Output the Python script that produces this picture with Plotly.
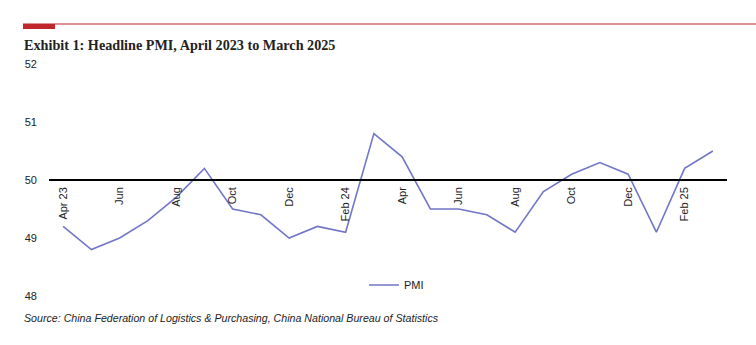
import plotly.graph_objects as go

months = ["Apr 23", "May 23", "Jun 23", "Jul 23", "Aug 23", "Sep 23", "Oct 23", "Nov 23",
          "Dec 23", "Jan 24", "Feb 24", "Mar 24", "Apr 24", "May 24", "Jun 24", "Jul 24",
          "Aug 24", "Sep 24", "Oct 24", "Nov 24", "Dec 24", "Jan 25", "Feb 25", "Mar 25"]
pmi = [49.2, 48.8, 49.0, 49.3, 49.7, 50.2, 49.5, 49.4, 49.0, 49.2, 49.1, 50.8,
       50.4, 49.5, 49.5, 49.4, 49.1, 49.8, 50.1, 50.3, 50.1, 49.1, 50.2, 50.5]
tick_vals = ["Apr 23", "Jun 23", "Aug 23", "Oct 23", "Dec 23", "Feb 24",
             "Apr 24", "Jun 24", "Aug 24", "Oct 24", "Dec 24", "Feb 25"]
tick_text = ["Apr 23", "Jun", "Aug", "Oct", "Dec", "Feb 24",
             "Apr", "Jun", "Aug", "Oct", "Dec", "Feb 25"]
y_ticks = [48, 49, 50, 51, 52]

W, H = 756, 345
L, R, T, B = 49, 29, 64, 49
PW, PH = W - L - R, H - T - B

def px(x):
    return (x - L) / PW

def py(y):
    return (H - B - y) / PH

fig = go.Figure()
fig.add_trace(go.Scatter(x=months, y=pmi, mode="lines", name="PMI",
                         line=dict(color="#7276c8", width=1.6)))

fig.update_layout(
    width=W, height=H,
    margin=dict(l=L, r=R, t=T, b=B),
    paper_bgcolor="white", plot_bgcolor="white",
    font=dict(family="Liberation Sans, Arial, sans-serif", size=11, color="#222"),
    showlegend=True,
    legend=dict(x=px(364), y=py(285), xanchor="left", yanchor="middle",
                bgcolor="rgba(0,0,0,0)", font=dict(size=11, color="#222")),
    xaxis=dict(type="category", categoryorder="array", categoryarray=months,
               range=[-0.5, len(months) - 0.5],
               tickmode="array", tickvals=tick_vals, ticktext=tick_text,
               tickangle=-90, ticks="", showgrid=False, zeroline=False,
               showline=True, linecolor="black", linewidth=1.6,
               anchor="free", position=0.5, ticklabelstandoff=2),
    yaxis=dict(range=[48, 52], tickvals=y_ticks, ticks="", showgrid=False,
               zeroline=False, showline=False, ticklabelstandoff=11),
    shapes=[
        dict(type="line", xref="paper", yref="paper", x0=px(23), x1=px(756),
             y0=py(24), y1=py(24), line=dict(color="#c0272d", width=1)),
        dict(type="rect", xref="paper", yref="paper", x0=px(23), x1=px(55),
             y0=py(29), y1=py(24), line=dict(width=0), fillcolor="#c0272d"),
    ],
    annotations=[
        dict(text="<b>Exhibit 1: Headline PMI, April 2023 to March 2025</b>",
             xref="paper", yref="paper", x=px(22), y=py(45), xanchor="left",
             yanchor="middle", showarrow=False,
             font=dict(family="Liberation Serif, serif", size=14.2, color="#222")),
        dict(text="<i>Source: China Federation of Logistics &amp; Purchasing, China National Bureau of Statistics</i>",
             xref="paper", yref="paper", x=px(22), y=py(318), xanchor="left",
             yanchor="middle", showarrow=False,
             font=dict(family="Liberation Sans, Arial, sans-serif", size=10.65, color="#222")),
    ],
)

fig.write_html("out.html")
